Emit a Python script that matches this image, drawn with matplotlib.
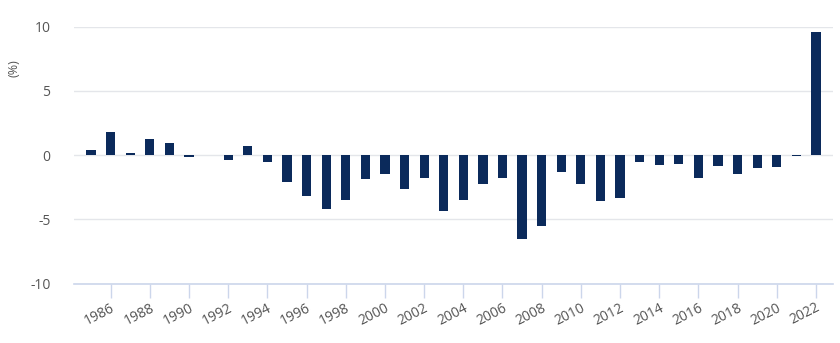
import matplotlib.pyplot as plt
import numpy as np

plt.rcParams['font.family'] = ['Open Sans', 'DejaVu Sans']
plt.rcParams['axes.unicode_minus'] = False

# Annual values, 1985-2022 (%)
years = list(range(1985, 2023))
values = [0.4, 1.8, 0.15, 1.3, 0.95, -0.13, 0.0, -0.34, 0.7, -0.52,
          -2.05, -3.2, -4.2, -3.5, -1.85, -1.5, -2.65, -1.75, -4.35, -3.5,
          -2.25, -1.75, -6.5, -5.55, -1.3, -2.25, -3.55, -3.3, -0.5, -0.78,
          -0.65, -1.75, -0.82, -1.45, -1.0, -0.95, -0.1, 9.6]
tick_years = list(range(1986, 2023, 2))
y_ticks = [-10, -5, 0, 5, 10]

bar_color = '#0b2a5b'
grid_color = '#e4e6ea'
axis_color = '#ccd6eb'
text_color = '#555555'

fig = plt.figure(figsize=(8.4, 3.43), dpi=100)
ax = fig.add_axes([0.0881, 0.173, 0.9036, 0.749])

ax.bar(years, values, width=0.47, color=bar_color, zorder=3)

ax.set_xlim(1984.13, 2022.87)
ax.set_ylim(-10, 10)
ax.set_yticks(y_ticks)
ax.set_xticks(tick_years)
ax.set_xticklabels([str(y) for y in tick_years], rotation=27, ha='right',
                   rotation_mode='anchor', fontsize=10, color=text_color)
ax.tick_params(axis='x', length=10, width=1, color=axis_color, pad=2)
ax.tick_params(axis='y', length=0, pad=17, labelsize=10, labelcolor=text_color)

ax.grid(axis='y', color=grid_color, linewidth=1, zorder=0)
for side in ['top', 'right', 'left']:
    ax.spines[side].set_visible(False)
ax.spines['bottom'].set_color(axis_color)
ax.spines['bottom'].set_linewidth(1.2)

ax.set_ylabel('(%)', fontsize=9, color=text_color)
ax.yaxis.set_label_coords(-0.07, 0.84)

fig.savefig('out.png', dpi=100)
